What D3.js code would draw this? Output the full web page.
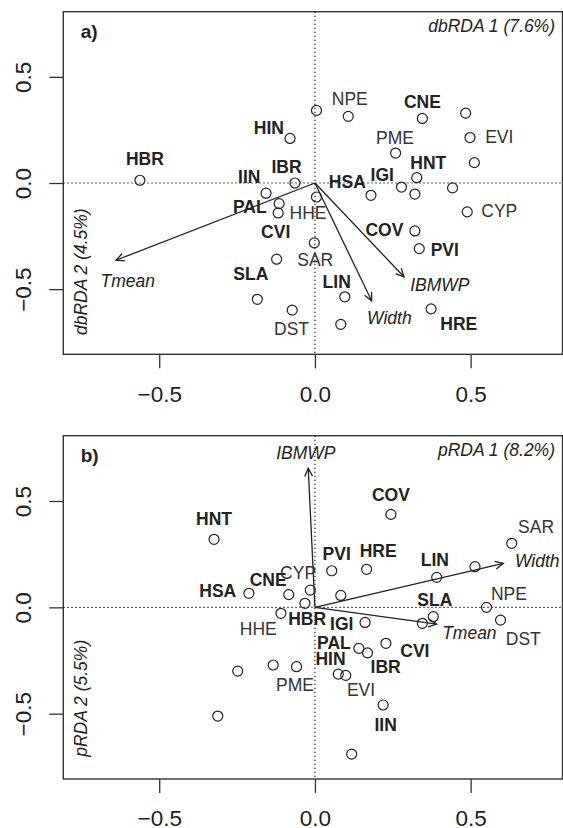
<!DOCTYPE html>
<html>
<head>
<meta charset="utf-8">
<script src="https://cdn.jsdelivr.net/npm/d3@7"></script>
<style>
  html, body { margin: 0; padding: 0; background: #fff; }
  svg { display: block; font-family: "Liberation Sans", Arial, sans-serif; }
</style>
</head>
<body>
<svg id="chart" width="563" height="828"></svg>
<script>
// site scores, panel a (dbRDA)
const sitesA = [
  [-0.562, 0.013], [0.005, 0.342], [0.107, 0.314], [0.345, 0.304], [0.484, 0.329],
  [0.498, 0.214], [-0.080, 0.210], [0.259, 0.141], [0.512, 0.096], [0.327, 0.025],
  [-0.064, 0.000], [0.278, -0.019], [0.442, -0.023], [-0.157, -0.048], [0.180, -0.058],
  [0.321, -0.052], [0.005, -0.066], [-0.115, -0.097], [-0.118, -0.141], [0.489, -0.136],
  [0.321, -0.226], [-0.002, -0.282], [0.335, -0.309], [-0.123, -0.359], [-0.185, -0.548],
  [0.096, -0.536], [-0.073, -0.599], [0.373, -0.593], [0.083, -0.666]
];

// species labels, panel a: [code, x, y, bold]
const labelsA = [
  ["HBR", -0.546, 0.115, true], ["HIN", -0.148, 0.259, true], ["NPE", 0.112, 0.397, false],
  ["CNE", 0.345, 0.381, true], ["PME", 0.257, 0.212, false], ["EVI", 0.592, 0.216, false],
  ["HNT", 0.364, 0.096, true], ["IBR", -0.091, 0.079, true], ["IIN", -0.211, 0.032, true],
  ["HSA", 0.104, 0.005, true], ["IGI", 0.216, 0.041, true], ["PAL", -0.209, -0.110, true],
  ["HHE", -0.022, -0.141, false], ["CYP", 0.592, -0.132, false], ["COV", 0.223, -0.219, true],
  ["CVI", -0.126, -0.230, true], ["PVI", 0.417, -0.313, true], ["SAR", 0.001, -0.360, false],
  ["SLA", -0.206, -0.426, true], ["LIN", 0.070, -0.466, true], ["DST", -0.075, -0.685, false],
  ["HRE", 0.462, -0.665, true]
];

// environmental vectors, panel a: [name, x, y, labelX, labelY]
const arrowsA = [
  ["Tmean", -0.639, -0.364, -0.601, -0.458],
  ["Width", 0.182, -0.555, 0.239, -0.633],
  ["IBMWP", 0.286, -0.442, 0.401, -0.481]
];

// site scores, panel b (pRDA)
const sitesB = [
  [-0.324, 0.320], [0.244, 0.437], [0.632, 0.301], [0.514, 0.191], [0.054, 0.172],
  [0.166, 0.179], [0.391, 0.141], [-0.015, 0.081], [-0.212, 0.066], [-0.084, 0.060],
  [0.083, 0.056], [-0.032, 0.019], [0.551, 0.000], [-0.109, -0.028], [0.380, -0.044],
  [0.345, -0.075], [0.161, -0.071], [0.596, -0.060], [0.228, -0.169], [0.141, -0.193],
  [0.169, -0.214], [-0.134, -0.271], [-0.059, -0.279], [-0.248, -0.300], [0.075, -0.314],
  [0.099, -0.320], [0.219, -0.459], [-0.312, -0.511], [0.118, -0.690]
];

const labelsB = [
  ["COV", 0.244, 0.528, true], ["HNT", -0.324, 0.419, true], ["SAR", 0.710, 0.379, false],
  ["PVI", 0.070, 0.251, true], ["HRE", 0.203, 0.266, true], ["LIN", 0.385, 0.222, true],
  ["CNE", -0.150, 0.132, true], ["CYP", -0.054, 0.165, false], ["HSA", -0.312, 0.078, true],
  ["NPE", 0.623, 0.063, false], ["SLA", 0.385, 0.038, true], ["HHE", -0.182, -0.099, false],
  ["HBR", -0.025, -0.055, true], ["IGI", 0.086, -0.075, true], ["DST", 0.669, -0.149, false],
  ["PAL", 0.061, -0.165, true], ["CVI", 0.321, -0.206, true], ["HIN", 0.050, -0.243, true],
  ["IBR", 0.227, -0.279, true], ["PME", -0.064, -0.362, false], ["EVI", 0.148, -0.386, false],
  ["IIN", 0.227, -0.550, true]
];

const arrowsB = [
  ["IBMWP", -0.0215, 0.654, -0.029, 0.727],
  ["Width", 0.605, 0.207, 0.714, 0.218],
  ["Tmean", 0.391, -0.079, 0.496, -0.119]
];

const ticks = [-0.5, 0.0, 0.5];

const svg = d3.select('#chart');
const ink = '#222';

function drawPanel(opts) {
  const { top, bottom, sites, labels, arrows, tag, xTitle, yTitle, yTitleCenter } = opts;
  const left = 63.3, right = 562.5;

  const x = d3.scaleLinear().domain([-0.808, 0.795]).range([left, right]);
  const y = d3.scaleLinear().domain([-0.807, 0.807]).range([bottom, top]);

  const g = svg.append('g');

  // zero lines
  g.append('line')
    .attr('x1', x(0)).attr('x2', x(0)).attr('y1', top).attr('y2', bottom)
    .attr('stroke', ink).attr('stroke-width', 1.2).attr('stroke-dasharray', '1.4,2.6');
  g.append('line')
    .attr('x1', left).attr('x2', right).attr('y1', y(0)).attr('y2', y(0))
    .attr('stroke', ink).attr('stroke-width', 1.2).attr('stroke-dasharray', '1.4,2.6');

  // axes
  const xAxis = g.append('g')
    .attr('transform', `translate(0, ${bottom})`)
    .call(d3.axisBottom(x).tickValues(ticks).tickFormat(d3.format('.1f')).tickSize(14).tickPadding(17.5));
  const yAxis = g.append('g')
    .attr('transform', `translate(${left}, 0)`)
    .call(d3.axisLeft(y).tickValues(ticks).tickFormat(d3.format('.1f')).tickSize(14));

  [xAxis, yAxis].forEach((ax) => {
    ax.select('.domain').remove();
    ax.selectAll('line').attr('stroke', '#333').attr('stroke-width', 1.3);
    ax.selectAll('text')
      .attr('fill', ink)
      .attr('font-size', 22.5)
      .attr('font-family', '"Liberation Sans", Arial, sans-serif');
  });
  yAxis.selectAll('text')
    .attr('x', null).attr('dy', null)
    .attr('text-anchor', 'middle')
    .attr('transform', 'translate(-32.3, 0) rotate(-90)');

  // box
  g.append('rect')
    .attr('x', left).attr('y', top)
    .attr('width', right - left).attr('height', bottom - top)
    .attr('fill', 'none').attr('stroke', '#333').attr('stroke-width', 1.4);

  // vectors
  arrows.forEach(([name, ax, ay, lx, ly]) => {
    const x0 = x(0), y0 = y(0), x1 = x(ax), y1 = y(ay);
    const ang = Math.atan2(y1 - y0, x1 - x0);
    const len = 9, spread = Math.PI / 7;
    g.append('line')
      .attr('x1', x0).attr('y1', y0).attr('x2', x1).attr('y2', y1)
      .attr('stroke', ink).attr('stroke-width', 1.3);
    g.append('path')
      .attr('d', `M${x1 - len * Math.cos(ang - spread)},${y1 - len * Math.sin(ang - spread)}` +
        `L${x1},${y1}L${x1 - len * Math.cos(ang + spread)},${y1 - len * Math.sin(ang + spread)}`)
      .attr('fill', 'none').attr('stroke', ink).attr('stroke-width', 1.3);
    g.append('text')
      .attr('x', x(lx)).attr('y', y(ly)).attr('dy', '0.36em')
      .attr('text-anchor', 'middle')
      .attr('font-size', 17.5).attr('font-style', 'italic')
      .attr('fill', ink)
      .text(name);
  });

  // sites
  g.selectAll('circle.site')
    .data(sites)
    .join('circle')
    .attr('class', 'site')
    .attr('cx', (d) => x(d[0]))
    .attr('cy', (d) => y(d[1]))
    .attr('r', 5)
    .attr('fill', 'none')
    .attr('stroke', ink)
    .attr('stroke-width', 1.2);

  // species codes
  g.selectAll('text.sp')
    .data(labels)
    .join('text')
    .attr('class', 'sp')
    .attr('x', (d) => x(d[1]))
    .attr('y', (d) => y(d[2]))
    .attr('dy', '0.36em')
    .attr('text-anchor', 'middle')
    .attr('font-size', 17.5)
    .attr('font-weight', (d) => (d[3] ? 'bold' : 'normal'))
    .attr('fill', (d) => (d[3] ? ink : '#333'))
    .text((d) => d[0]);

  // panel tag and axis titles
  g.append('text')
    .attr('x', 80.7).attr('y', top + 26.5)
    .attr('font-size', 19).attr('font-weight', 'bold').attr('fill', ink)
    .text(tag);
  g.append('text')
    .attr('x', 555).attr('y', top + 20.5)
    .attr('text-anchor', 'end')
    .attr('font-size', 17.5).attr('font-style', 'italic').attr('fill', ink)
    .text(xTitle);
  g.append('text')
    .attr('transform', `translate(87, ${yTitleCenter}) rotate(-90)`)
    .attr('text-anchor', 'middle')
    .attr('font-size', 17.5).attr('font-style', 'italic').attr('fill', ink)
    .text(yTitle);
}

drawPanel({
  top: 11.7, bottom: 354.3,
  sites: sitesA, labels: labelsA, arrows: arrowsA,
  tag: 'a)', xTitle: 'dbRDA 1 (7.6%)', yTitle: 'dbRDA 2 (4.5%)', yTitleCenter: 271.7
});

drawPanel({
  top: 435.7, bottom: 779,
  sites: sitesB, labels: labelsB, arrows: arrowsB,
  tag: 'b)', xTitle: 'pRDA 1 (8.2%)', yTitle: 'pRDA 2 (5.5%)', yTitleCenter: 698.3
});
</script>
</body>
</html>
